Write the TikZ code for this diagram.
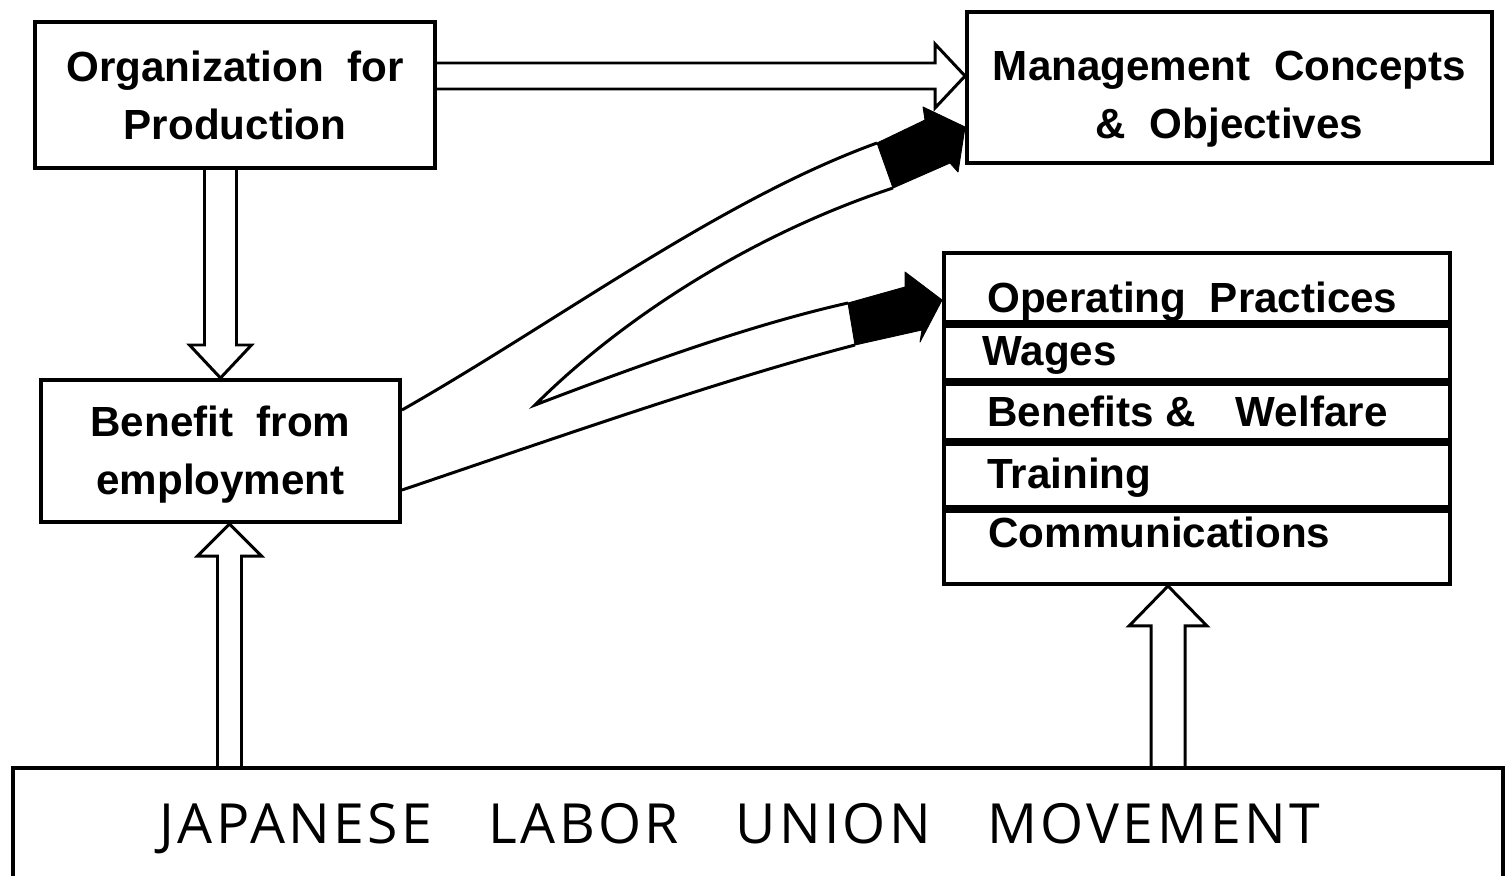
\documentclass[tikz,border=0pt]{standalone}
\usepackage{fontspec}
\setmainfont{Liberation Sans}
\newfontfamily\unionfont[LetterSpace=6]{Open Sans}
\usetikzlibrary{calc}

% hollow block arrow: start, tip, half shaft, half head, head length
\newcommand{\hollowarrow}[5]{%
  \coordinate (hb) at ($(#2)!#5!(#1)$);
  \draw[hollow] ($(#1)!#3!90:(#2)$) -- ($(hb)!#3!90:(#2)$) -- ($(hb)!#4!90:(#2)$) -- (#2)
    -- ($(hb)!#4!-90:(#2)$) -- ($(hb)!#3!-90:(#2)$) -- ($(#1)!#3!-90:(#2)$);
}

\begin{document}
\begin{tikzpicture}[x=0.02cm, y=-0.02cm,
  box/.style={draw, line width=2.3pt, inner sep=0pt, align=center,
    font=\fontsize{24}{33.5}\selectfont\bfseries},
  item/.style={anchor=base west, inner sep=0pt, font=\fontsize{24}{29}\selectfont\bfseries},
  hollow/.style={line width=1.7pt, line join=miter},
  curveline/.style={line width=1.7pt},
  blackhead/.style={fill=black, draw=black, line width=0.5pt, line join=round}]
  \useasboundingbox (0,0) rectangle (1506,875);

  \node[box, minimum width=8cm, text height=2.36cm, text depth=0.56cm] (org) at (235,95) {Organization~~for\\Production};
  \node[box, minimum width=10.5cm, text height=2.54cm, text depth=0.48cm] (mgmt) at (1229.5,87.5) {Management~~Concepts\\\&~~Objectives};
  \node[box, minimum width=7.18cm, text height=2.3cm, text depth=0.54cm] (benefit) at (220.5,451) {Benefit~~from\\employment};

  % practices list
  \node[draw, line width=2.3pt, minimum width=10.12cm, minimum height=6.62cm] (list) at (1197,418.5) {};
  \foreach \y in {324,382,442,509}
    \draw[line width=4.5pt] (list.west |- 0,\y) -- (list.east |- 0,\y);
  \node[item] (op) at (987,312) {Operating~~Practices};
  \node[item] (wages) at (982,365) {Wages};
  \node[item] (welfare) at (987,426) {Benefits \&\hspace{0.8cm}Welfare};
  \node[item] (training) at (987,488) {Training};
  \node[item] (comm) at (988,547) {Communications};

  \node[draw, line width=2.3pt, minimum width=29.8cm, minimum height=2.44cm, inner sep=0pt,
    font=\unionfont\fontsize{31.5}{37}\selectfont] (union) at (758,829)
    {JAPANESE\hspace{1.13cm}LABOR\hspace{1.13cm}UNION\hspace{1.13cm}MOVEMENT\hspace*{0.72cm}};

  % hollow arrows
  \coordinate (h1) at (org.east |- 0,76);
  \coordinate (h2) at (mgmt.west |- 0,76);
  \hollowarrow{h1}{h2}{0.26cm}{0.64cm}{0.6cm}
  \coordinate (d1) at (org.south -| benefit.north);
  \hollowarrow{d1}{benefit.north}{0.32cm}{0.62cm}{0.66cm}
  \coordinate (u2) at ([xshift=0.18cm]benefit.south);
  \coordinate (u1) at (union.north -| u2);
  \hollowarrow{u1}{u2}{0.24cm}{0.64cm}{0.64cm}
  \coordinate (v2) at ([xshift=-0.58cm]list.south);
  \coordinate (v1) at (union.north -| v2);
  \hollowarrow{v1}{v2}{0.34cm}{0.78cm}{0.8cm}

  % curved arrows with black heads
  \coordinate (a0) at (benefit.east |- 0,410);
  \coordinate (c0) at (benefit.east |- 0,490);
  \coordinate (notch) at (535,405);
  \coordinate (a1) at (877,143);
  \coordinate (a2) at (893,188);
  \coordinate (c1) at (848,303);
  \coordinate (c2) at (855,345);
  \draw[curveline] (a0) .. controls (560,320) and (720,200) .. (a1);
  \draw[curveline] (a2) .. controls (750,235) and (620,320) .. (notch) .. controls (640,365) and (750,325) .. (c1);
  \draw[curveline] (c0) .. controls (550,440) and (720,380) .. (c2);
  \coordinate (atip) at (mgmt.west |- 0,127);
  \filldraw[blackhead] (a1) -- (925,120) -- (923,107) -- (atip) -- (958,172) -- (950,163) -- (a2) -- cycle;
  \coordinate (ctip) at (list.west |- 0,300);
  \filldraw[blackhead] (c1) -- (905,287) -- (905,272) -- (ctip) -- (920,342) -- (922,330) -- (c2) -- cycle;
\end{tikzpicture}
\end{document}
